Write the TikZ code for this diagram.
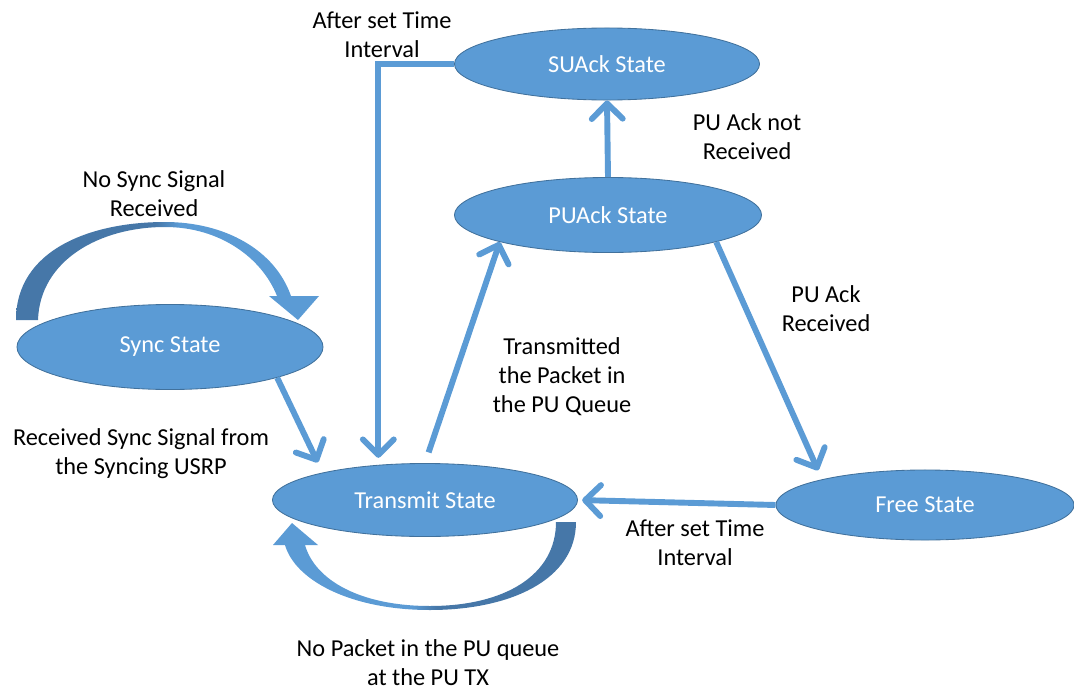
\documentclass[tikz,border=0pt]{standalone}
\usepackage{fontspec}
\setmainfont{Carlito}
\usetikzlibrary{shapes.geometric, arrows.meta}
\definecolor{stateblue}{HTML}{5B9BD5}
\definecolor{stateedge}{HTML}{41719C}
\definecolor{loopdark}{HTML}{4677A8}
\tikzstyle{state} = [ellipse, draw=stateedge, line width=0.6pt, fill=stateblue, text=white, font=\fontsize{17.3}{20.6}\selectfont, inner sep=0pt]
\tikzstyle{note} = [align=center, font=\fontsize{17.3}{20.6}\selectfont, inner sep=0pt]
\tikzstyle{line} = [draw=stateblue, line width=4.2pt, -{Straight Barb[round, length=11pt, width=22pt]}]
\pgfdeclarehorizontalshading{loopleft}{100bp}{color(0bp)=(loopdark); color(48bp)=(loopdark); color(52bp)=(stateblue); color(100bp)=(stateblue)}
\pgfdeclarehorizontalshading{loopright}{100bp}{color(0bp)=(stateblue); color(48bp)=(stateblue); color(52bp)=(loopdark); color(100bp)=(loopdark)}

\begin{document}
\begin{tikzpicture}[x=0.025cm, y=-0.025cm]
    \useasboundingbox (0,0) rectangle (1074,691);

    % curved self loops
    \shade[shading=loopleft] (16,320) .. controls (16,250) and (90,222) .. (165,222)
        .. controls (225,222) and (275,250) .. (291,296)
        -- (319,296) -- (298,320) -- (269,296) -- (277,296)
        .. controls (262,258) and (220,227) .. (165,227)
        .. controls (100,227) and (40,260) .. (38,320) -- cycle;
    \shade[shading=loopright] (576,522) .. controls (576,580) and (510,610) .. (430,610)
        .. controls (350,610) and (295,580) .. (285,545)
        -- (273,545) -- (292,523) -- (318,545) -- (305,545)
        .. controls (315,580) and (360,606) .. (430,606)
        .. controls (505,606) and (556,575) .. (556,522) -- cycle;

    \node[state, minimum width=7.625cm, minimum height=1.8cm](suack) at (607,64) {SUAck State};
    \node[state, minimum width=7.675cm, minimum height=1.875cm](puack) at (608,215) {PUAck State};
    \node[state, minimum width=7.65cm, minimum height=2.125cm](sync) at (170,347) {\raisebox{-2pt}{Sync State}};
    \node[state, minimum width=7.625cm, minimum height=1.825cm](transmit) at (425,500) {Transmit State};
    \node[state, minimum width=7.45cm, minimum height=1.75cm](free) at (925,505) {Free State};

    \path[line] (suack.west) -| ([shift={(0,-7)}]transmit.143);
    \path[line] (puack.north) -- (suack.south);
    \path[line, shorten <=8pt] (transmit.north) -- (puack.194);
    \path[line, shorten >=8pt] (sync.-16) -- (transmit.165);
    \path[line, shorten >=7pt] (puack.-14) -- (free.166);
    \path[line, shorten >=3pt] (free.west) -- (transmit.east);

    \node[note](nosync) at (154,194) {No Sync Signal\\Received};
    \node[note](suwait) at (382,35) {After set Time\\Interval};
    \node[note](nack) at (747,137) {PU Ack not\\Received};
    \node[note](ack) at (826,309) {PU Ack\\Received};
    \node[note](sent) at (562,377) {Transmitted\\the Packet in\\the PU Queue};
    \node[note](gotsync) at (141,454) {Received Sync Signal from\\the Syncing USRP};
    \node[note](freewait) at (695,543) {After set Time\\Interval};
    \node[note](empty) at (428,663) {No Packet in the PU queue\\at the PU TX};
\end{tikzpicture}
\end{document}
